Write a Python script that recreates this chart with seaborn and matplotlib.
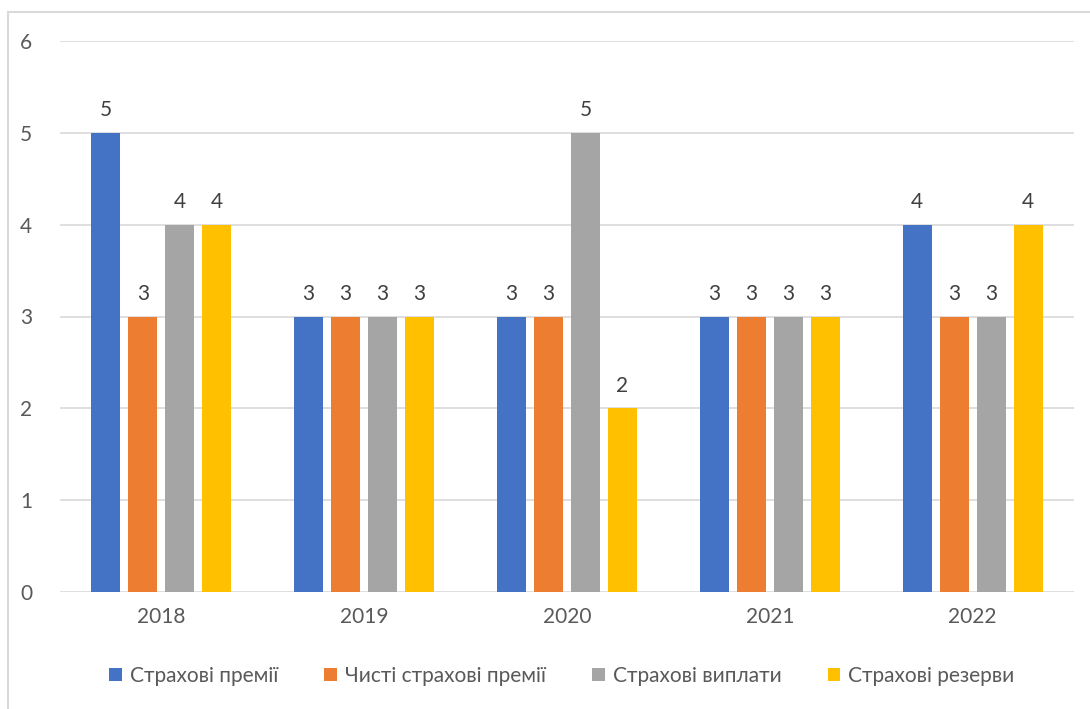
import matplotlib
matplotlib.use("Agg")
import matplotlib.pyplot as plt
from matplotlib.patches import Rectangle
import seaborn as sns
import pandas as pd

years = ["2018", "2019", "2020", "2021", "2022"]
series_names = ["Страхові премії", "Чисті страхові премії", "Страхові виплати", "Страхові резерви"]
premiums = [5, 3, 3, 3, 4]
net_premiums = [3, 3, 3, 3, 3]
payouts = [4, 3, 5, 3, 3]
reserves = [4, 3, 2, 3, 4]
colors = ["#4472C4", "#ED7D31", "#A5A5A5", "#FFC000"]
y_ticks = [0, 1, 2, 3, 4, 5, 6]

rows = []
for name, vals in zip(series_names, [premiums, net_premiums, payouts, reserves]):
    for yr, v in zip(years, vals):
        rows.append({"year": yr, "series": name, "value": v})
df = pd.DataFrame(rows)

sns.set_theme(style="white")
plt.rcParams["font.family"] = ["Lato", "DejaVu Sans"]
text_color = "#595959"

fig = plt.figure(figsize=(10.9, 7.09), dpi=100)
ax = fig.add_axes([60 / 1090, 1 - 592 / 709, 1014 / 1090, 551 / 709])

sns.barplot(data=df, x="year", y="value", hue="series", palette=colors,
            width=0.73, gap=0.22, ax=ax, legend=True, saturation=1,
            errorbar=None, linewidth=0)

for container in ax.containers:
    ax.bar_label(container, fmt="%d", padding=9, fontsize=15, color="#404040")

ax.set_ylim(0, 6)
ax.set_xlim(-0.5, 4.5)
ax.set_yticks(y_ticks)
ax.yaxis.grid(True, color="#D9D9D9", linewidth=1.2)
ax.set_axisbelow(True)
for s in ax.spines.values():
    s.set_visible(False)
ax.tick_params(axis="y", length=0, pad=20, labelsize=15, labelcolor=text_color)
ax.tick_params(axis="x", length=0, pad=11, labelsize=15, labelcolor=text_color)
ax.set_xlabel("")
ax.set_ylabel("")

handles, labels = ax.get_legend_handles_labels()
ax.get_legend().remove()
fig.legend(handles, labels, loc="center", bbox_to_anchor=(562 / 1090, 1 - 676 / 709),
           ncol=4, frameon=False, fontsize=15, labelcolor=text_color,
           handlelength=0.6, handleheight=0.6, handletextpad=0.4, columnspacing=2.2)

# chart area frame
fig.patches.append(Rectangle((8 / 1090, -0.1), 1.2, 1 - 12 / 709 + 0.1,
                             transform=fig.transFigure, fill=False,
                             edgecolor="#D9D9D9", linewidth=1.5))

fig.savefig("out.png", dpi=100)
